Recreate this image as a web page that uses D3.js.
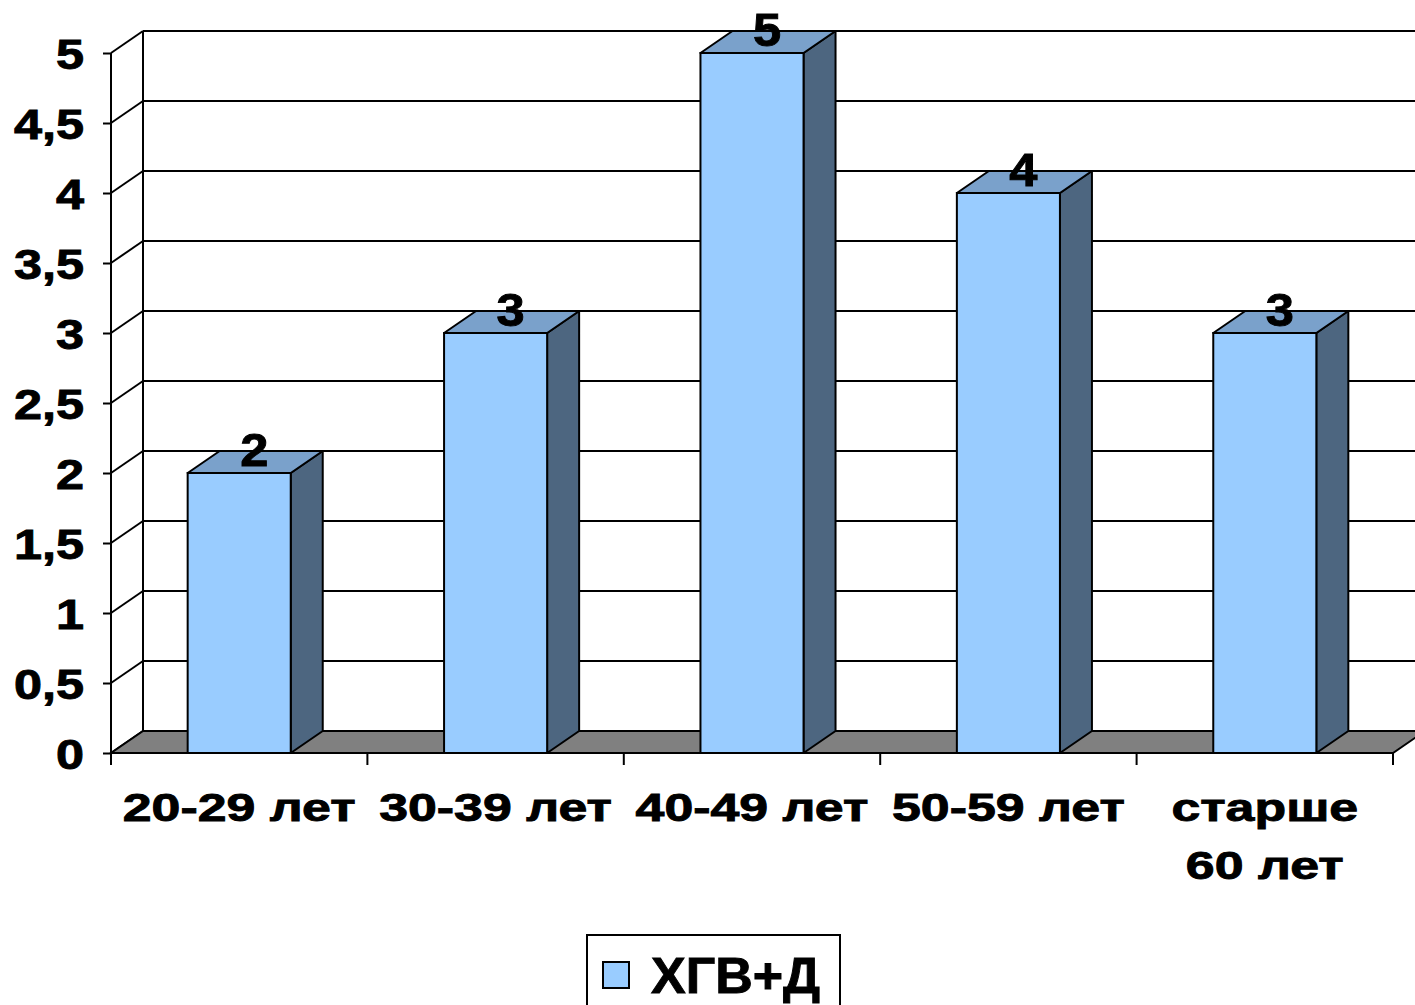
<!DOCTYPE html>
<html>
<head>
<meta charset="utf-8">
<script src="https://cdn.jsdelivr.net/npm/d3@7"></script>
<style>
  html, body { margin: 0; padding: 0; background: #fff; }
  svg { display: block; }
  text { font-family: "Liberation Sans", Arial, sans-serif; font-weight: bold; fill: #000; stroke: #000; stroke-width: 0.9px; }
</style>
</head>
<body>
<svg id="chart" width="1415" height="1005"></svg>
<script>
// Age groups and patient counts
const categories = ["20-29 лет", "30-39 лет", "40-49 лет", "50-59 лет", "старше\n60 лет"];
const values = [2, 3, 5, 4, 3];
const seriesName = "ХГВ+Д";
const yTicks = [0, 0.5, 1, 1.5, 2, 2.5, 3, 3.5, 4, 4.5, 5];

const svg = d3.select("#chart");

// Front plane of the 3D plot and depth offset to the back wall
const DX = 32, DY = -22;
const x = d3.scaleBand().domain(categories).range([111, 1393]).padding(0);
const y = d3.scaleLinear().domain([0, 5]).range([753, 53]);
const barW = x.bandwidth() * 0.402;

const fmt = v => String(v).replace(".", ",");

// Back wall gridlines
const grid = svg.append("g");
grid.selectAll("line.h").data(yTicks).join("line")
  .attr("x1", x.range()[0] + DX).attr("x2", x.range()[1] + DX)
  .attr("y1", d => y(d) + DY).attr("y2", d => y(d) + DY)
  .attr("stroke", "#000").attr("stroke-width", 2);
// Side wall diagonals
grid.selectAll("line.d").data(yTicks).join("line")
  .attr("x1", x.range()[0]).attr("x2", x.range()[0] + DX)
  .attr("y1", d => y(d)).attr("y2", d => y(d) + DY)
  .attr("stroke", "#000").attr("stroke-width", 2);
// Back wall left edge
grid.append("line")
  .attr("x1", x.range()[0] + DX).attr("x2", x.range()[0] + DX)
  .attr("y1", y(0) + DY).attr("y2", y(5) + DY)
  .attr("stroke", "#000").attr("stroke-width", 2);

// Floor
const x0 = x.range()[0], x1 = x.range()[1];
svg.append("path")
  .attr("d", `M${x0},${y(0)}L${x1},${y(0)}L${x1 + DX},${y(0) + DY}L${x0 + DX},${y(0) + DY}Z`)
  .attr("fill", "#808080").attr("stroke", "#000").attr("stroke-width", 2);

// Y axis
const yAxis = svg.append("g").attr("transform", `translate(${x0},0)`)
  .call(d3.axisLeft(y).tickValues(yTicks).tickSize(8).tickPadding(0).tickFormat(fmt));
yAxis.select(".domain").remove();
yAxis.selectAll(".tick line").attr("stroke", "#000").attr("stroke-width", 2);
yAxis.selectAll(".tick text").remove();
yAxis.selectAll(".tick").append("text")
  .attr("text-anchor", "end")
  .attr("transform", "translate(-27,15) scale(1.2,1)")
  .attr("font-size", 42)
  .text(fmt);
svg.append("line").attr("x1", x0).attr("x2", x0).attr("y1", y(5)).attr("y2", y(0))
  .attr("stroke", "#000").attr("stroke-width", 2);

// X axis ticks below the floor
const xTickPos = d3.range(categories.length + 1).map(i => x0 + i * x.step());
svg.append("g").selectAll("line").data(xTickPos).join("line")
  .attr("x1", d => d).attr("x2", d => d)
  .attr("y1", y(0)).attr("y2", y(0) + 12)
  .attr("stroke", "#000").attr("stroke-width", 2);

// Bars
const bars = svg.append("g").selectAll("g").data(values).join("g");
const bx = (d, i) => x(categories[i]) + (x.bandwidth() - barW) / 2;
bars.append("path") // side face
  .attr("d", (d, i) => {
    const r = bx(d, i) + barW;
    return `M${r},${y(d)}L${r + DX},${y(d) + DY}L${r + DX},${y(0) + DY}L${r},${y(0)}Z`;
  })
  .attr("fill", "#4D6680").attr("stroke", "#000").attr("stroke-width", 2).attr("stroke-linejoin", "round");
bars.append("path") // top face
  .attr("d", (d, i) => {
    const l = bx(d, i), r = l + barW;
    return `M${l},${y(d)}L${l + DX},${y(d) + DY}L${r + DX},${y(d) + DY}L${r},${y(d)}Z`;
  })
  .attr("fill", "#7AA1CB").attr("stroke", "#000").attr("stroke-width", 2).attr("stroke-linejoin", "round");
bars.append("rect") // front face
  .attr("x", bx).attr("y", d => y(d))
  .attr("width", barW).attr("height", d => y(0) - y(d))
  .attr("fill", "#99CCFF").attr("stroke", "#000").attr("stroke-width", 2);

// Value labels
bars.append("text")
  .attr("text-anchor", "middle")
  .attr("transform", (d, i) => `translate(${bx(d, i) + barW / 2 + DX / 2 - 1},${y(d) - 7}) scale(1.1,1)`)
  .attr("font-size", 46)
  .text(d => d);

// Category labels
const xl = svg.append("g").selectAll("text").data(categories).join("text")
  .attr("text-anchor", "middle")
  .attr("font-size", 39)
  .attr("transform", d => `translate(${x(d) + x.bandwidth() / 2},821) scale(1.33,1)`);
xl.selectAll("tspan").data(d => d.split("\n")).join("tspan")
  .attr("x", 0).attr("dy", (d, i) => i === 0 ? 0 : 58)
  .text(d => d);

// Legend
const lg = svg.append("g").attr("transform", "translate(587,935)");
lg.append("rect").attr("width", 253).attr("height", 90)
  .attr("fill", "#fff").attr("stroke", "#000").attr("stroke-width", 2);
lg.append("rect").attr("x", 16).attr("y", 27).attr("width", 26).attr("height", 26)
  .attr("fill", "#99CCFF").attr("stroke", "#000").attr("stroke-width", 2);
lg.append("text").attr("transform", "translate(64,58) scale(1.04,1)")
  .attr("font-size", 50).text(seriesName);
</script>
</body>
</html>
